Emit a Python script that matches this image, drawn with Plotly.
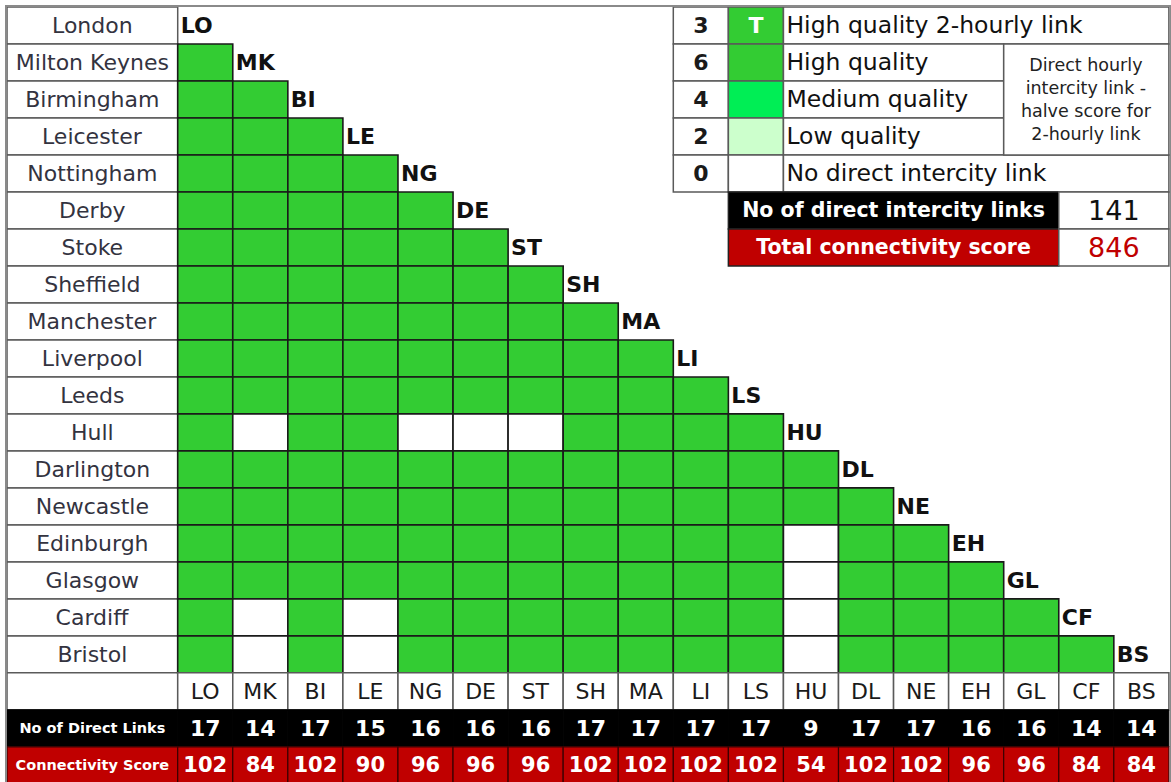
import plotly.graph_objects as go

# ---------------- data ----------------
cities = ["London", "Milton Keynes", "Birmingham", "Leicester", "Nottingham", "Derby",
          "Stoke", "Sheffield", "Manchester", "Liverpool", "Leeds", "Hull",
          "Darlington", "Newcastle", "Edinburgh", "Glasgow", "Cardiff", "Bristol"]
codes = ["LO", "MK", "BI", "LE", "NG", "DE", "ST", "SH", "MA", "LI", "LS", "HU",
         "DL", "NE", "EH", "GL", "CF", "BS"]

# lower-triangle link scores: row i lists scores vs columns 0..i-1
link_scores = [
    [],
    [6],
    [6, 6],
    [6, 6, 6],
    [6, 6, 6, 6],
    [6, 6, 6, 6, 6],
    [6, 6, 6, 6, 6, 6],
    [6, 6, 6, 6, 6, 6, 6],
    [6, 6, 6, 6, 6, 6, 6, 6],
    [6, 6, 6, 6, 6, 6, 6, 6, 6],
    [6, 6, 6, 6, 6, 6, 6, 6, 6, 6],
    [6, 0, 6, 6, 0, 0, 0, 6, 6, 6, 6],
    [6, 6, 6, 6, 6, 6, 6, 6, 6, 6, 6, 6],
    [6, 6, 6, 6, 6, 6, 6, 6, 6, 6, 6, 6, 6],
    [6, 6, 6, 6, 6, 6, 6, 6, 6, 6, 6, 0, 6, 6],
    [6, 6, 6, 6, 6, 6, 6, 6, 6, 6, 6, 0, 6, 6, 6],
    [6, 0, 6, 0, 6, 6, 6, 6, 6, 6, 6, 0, 6, 6, 6, 6],
    [6, 0, 6, 0, 6, 6, 6, 6, 6, 6, 6, 0, 6, 6, 6, 6, 6],
]

direct_links = [17, 14, 17, 15, 16, 16, 16, 17, 17, 17, 17, 9, 17, 17, 16, 16, 14, 14]
connectivity = [102, 84, 102, 90, 96, 96, 96, 102, 102, 102, 102, 54, 102, 102, 96, 96, 84, 84]

legend_scores = [3, 6, 4, 2, 0]
legend_marks = ["T", "", "", "", ""]
legend_labels = ["High quality 2-hourly link", "High quality", "Medium quality",
                 "Low quality", "No direct intercity link"]
legend_note = "Direct hourly<br>intercity link -<br>halve score for<br>2-hourly link"

summary_labels = ["No of direct intercity links", "Total connectivity score"]
summary_values = [141, 846]

bottom_labels = ["No of Direct Links", "Connectivity Score"]

# ---------------- styling ----------------
GREEN = "#33CC33"
MED = "#00EE55"
LOW = "#CCFFCC"
RED = "#C00000"
score_color = {6: GREEN, 3: GREEN, 4: MED, 2: LOW, 0: "white"}
FONT = "DejaVu Sans"
GRID = "#1a1a1a"
CELL_LINE = "#5a5a5a"

N = len(cities)
LABEL_W = 3.1
ROW_CODES = N
ROW_LINKS = N + 1
ROW_SCORE = N + 2
LEG_COL = 9

fig = go.Figure()


def cells(y, base, length, fill, line_color, line_width, text=None, font_color="black",
          font_size=16, anchor="middle", width=1.0):
    fig.add_trace(go.Bar(
        orientation="h", y=y, x=length, base=base, width=width,
        marker=dict(color=fill, line=dict(color=line_color, width=line_width)),
        text=text, textposition="inside", insidetextanchor=anchor, textangle=0,
        constraintext="none", cliponaxis=False,
        textfont=dict(family=FONT, color=font_color, size=font_size),
        hoverinfo="skip", showlegend=False))


# row labels (city names) + blank cell of code row
cells(list(range(N)) + [ROW_CODES], [-LABEL_W] * (N + 1), [LABEL_W] * (N + 1), "white",
      CELL_LINE, 1.5, text=cities + [""], font_color="#33333f", font_size=22)

# matrix cells
my, mb, mc = [], [], []
for i, row in enumerate(link_scores):
    for j, s in enumerate(row):
        my.append(i)
        mb.append(j)
        mc.append(score_color[s])
cells(my, mb, [1] * len(my), mc, GRID, 1.6)

# diagonal code labels
cells(list(range(N)), list(range(N)), [1] * N, "rgba(0,0,0,0)", "rgba(0,0,0,0)", 0,
      text=["<b>%s</b>" % c for c in codes], font_color="#111111", font_size=22,
      anchor="start")

# code row
cells([ROW_CODES] * N, list(range(N)), [1] * N, "white", CELL_LINE, 1.5,
      text=codes, font_color="#1a1a1a", font_size=22)

# direct links row
cells([ROW_LINKS], [-LABEL_W], [LABEL_W], "black", "black", 1,
      text=["<b>%s</b>" % bottom_labels[0]], font_color="white", font_size=14.5)
cells([ROW_LINKS] * N, list(range(N)), [1] * N, "black", "black", 1,
      text=["<b>%d</b>" % v for v in direct_links], font_color="white", font_size=22)

# connectivity score row
cells([ROW_SCORE], [-LABEL_W], [LABEL_W], RED, "#3a0000", 1.2,
      text=["<b>%s</b>" % bottom_labels[1]], font_color="white", font_size=14.5)
cells([ROW_SCORE] * N, list(range(N)), [1] * N, RED, "#3a0000", 1.2,
      text=["<b>%d</b>" % v for v in connectivity], font_color="white", font_size=21)

# legend: score numbers
nL = len(legend_scores)
cells(list(range(nL)), [LEG_COL] * nL, [1] * nL, "white", CELL_LINE, 1.5,
      text=["<b>%d</b>" % s for s in legend_scores], font_color="#1a1a1a", font_size=22)
# legend: colour swatches
cells(list(range(nL)), [LEG_COL + 1] * nL, [1] * nL, [score_color[s] for s in legend_scores],
      CELL_LINE, 1.5, text=["<b>%s</b>" % m if m else "" for m in legend_marks],
      font_color="white", font_size=22)
# legend: descriptions
desc_len = [N - LEG_COL - 2, 4, 4, 4, N - LEG_COL - 2]
cells(list(range(nL)), [LEG_COL + 2] * nL, desc_len, "white", CELL_LINE, 1.5,
      text=legend_labels, font_color="#111111", font_size=23.5, anchor="start")
# legend: note spanning three rows
cells([2], [LEG_COL + 6], [N - LEG_COL - 6], "white", CELL_LINE, 1.5,
      text=[legend_note], font_color="#222222", font_size=17.5, width=3)

# summary boxes
cells([5, 6], [LEG_COL + 1] * 2, [6, 6], ["black", RED], "#222222", 1.5,
      text=["<b>%s</b>" % t for t in summary_labels], font_color="white", font_size=20.5)
cells([5, 6], [LEG_COL + 7] * 2, [2, 2], "white", CELL_LINE, 1.5,
      text=[str(v) for v in summary_values], font_color=["#111111", RED], font_size=27)

fig.update_layout(
    width=1171, height=782,
    margin=dict(l=7, r=1, t=7, b=0),
    paper_bgcolor="white", plot_bgcolor="white",
    barmode="overlay", showlegend=False,
    font=dict(family=FONT),
)
fig.update_xaxes(range=[-LABEL_W, N + 0.02], showticklabels=False, ticks="", showgrid=False,
                 zeroline=False, showline=True, mirror=True, linecolor="#8a8a8a",
                 linewidth=2, fixedrange=True)
fig.update_yaxes(range=[N + 2.45, -0.5], showticklabels=False, ticks="", showgrid=False,
                 zeroline=False, showline=True, mirror=True, linecolor="#8a8a8a",
                 linewidth=2, fixedrange=True)

fig.write_html("out.html", config={"displayModeBar": False},
               post_script="document.body.style.margin='0px';")
